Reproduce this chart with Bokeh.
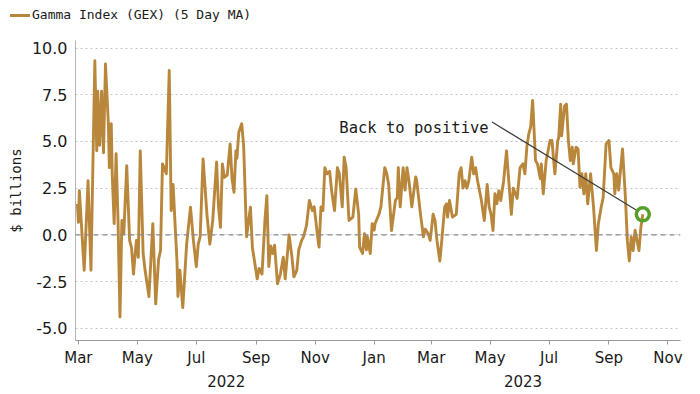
import pandas as pd
from bokeh.plotting import figure
from bokeh.layouts import column
from bokeh.models import (FixedTicker, DatetimeTickFormatter, NumeralTickFormatter, Span,
                          Label, Range1d, ColumnDataSource, DatetimeAxis, Div)
from bokeh.embed import file_html
from bokeh.resources import INLINE

# ---------------- data ----------------
dates = [
    "2022-02-28", "2022-03-01", "2022-03-02", "2022-03-07", "2022-03-11", "2022-03-14", "2022-03-18",
    "2022-03-20", "2022-03-21", "2022-03-23", "2022-03-25", "2022-03-27", "2022-03-29", "2022-04-01",
    "2022-04-02", "2022-04-04", "2022-04-05", "2022-04-07", "2022-04-09", "2022-04-11", "2022-04-13",
    "2022-04-15", "2022-04-17", "2022-04-20", "2022-04-23", "2022-04-25", "2022-04-27", "2022-04-30",
    "2022-05-02", "2022-05-04", "2022-05-07", "2022-05-09", "2022-05-13", "2022-05-17", "2022-05-20",
    "2022-05-23", "2022-05-25", "2022-05-27", "2022-05-31", "2022-06-03", "2022-06-05", "2022-06-07",
    "2022-06-09", "2022-06-11", "2022-06-12", "2022-06-14", "2022-06-17", "2022-06-21", "2022-06-25",
    "2022-06-28", "2022-07-01", "2022-07-03", "2022-07-05", "2022-07-08", "2022-07-12", "2022-07-15",
    "2022-07-18", "2022-07-22", "2022-07-24", "2022-07-26", "2022-07-28", "2022-07-30", "2022-08-02",
    "2022-08-05", "2022-08-07", "2022-08-09", "2022-08-11", "2022-08-12", "2022-08-14", "2022-08-17",
    "2022-08-19", "2022-08-22", "2022-08-26", "2022-08-28", "2022-09-02", "2022-09-04", "2022-09-07",
    "2022-09-10", "2022-09-12", "2022-09-14", "2022-09-16", "2022-09-18", "2022-09-20", "2022-09-23",
    "2022-09-26", "2022-09-29", "2022-10-01", "2022-10-05", "2022-10-08", "2022-10-10", "2022-10-13",
    "2022-10-15", "2022-10-18", "2022-10-20", "2022-10-23", "2022-10-26", "2022-10-29", "2022-10-31",
    "2022-11-04", "2022-11-05", "2022-11-07", "2022-11-09", "2022-11-11", "2022-11-13", "2022-11-16",
    "2022-11-18", "2022-11-21", "2022-11-24", "2022-11-26", "2022-11-29", "2022-12-01", "2022-12-03",
    "2022-12-06", "2022-12-10", "2022-12-13", "2022-12-16", "2022-12-17", "2022-12-20", "2022-12-22",
    "2022-12-24", "2022-12-25", "2022-12-28", "2022-12-30", "2023-01-01", "2023-01-02", "2023-01-06",
    "2023-01-08", "2023-01-12", "2023-01-14", "2023-01-16", "2023-01-19", "2023-01-23", "2023-01-25",
    "2023-01-26", "2023-01-28", "2023-01-31", "2023-02-02", "2023-02-04", "2023-02-06", "2023-02-09",
    "2023-02-13", "2023-02-14", "2023-02-18", "2023-02-21", "2023-02-23", "2023-02-26", "2023-02-28",
    "2023-03-03", "2023-03-05", "2023-03-07", "2023-03-10", "2023-03-12", "2023-03-15", "2023-03-17",
    "2023-03-18", "2023-03-20", "2023-03-23", "2023-03-27", "2023-03-30", "2023-04-01", "2023-04-03",
    "2023-04-05", "2023-04-07", "2023-04-09", "2023-04-12", "2023-04-14", "2023-04-16", "2023-04-18",
    "2023-04-22", "2023-04-25", "2023-04-28", "2023-04-30", "2023-05-02", "2023-05-04", "2023-05-06",
    "2023-05-08", "2023-05-10", "2023-05-12", "2023-05-15", "2023-05-18", "2023-05-20", "2023-05-23",
    "2023-05-25", "2023-05-29", "2023-06-01", "2023-06-04", "2023-06-06", "2023-06-08", "2023-06-10",
    "2023-06-12", "2023-06-14", "2023-06-17", "2023-06-19", "2023-06-22", "2023-06-23", "2023-06-25",
    "2023-06-28", "2023-06-30", "2023-07-02", "2023-07-04", "2023-07-07", "2023-07-10", "2023-07-11",
    "2023-07-13", "2023-07-14", "2023-07-17", "2023-07-19", "2023-07-21", "2023-07-23", "2023-07-25",
    "2023-07-26", "2023-07-29", "2023-07-31", "2023-08-02", "2023-08-04", "2023-08-06", "2023-08-08",
    "2023-08-10", "2023-08-13", "2023-08-16", "2023-08-19", "2023-08-21", "2023-08-24", "2023-08-26",
    "2023-08-29", "2023-09-01", "2023-09-03", "2023-09-06", "2023-09-07", "2023-09-09", "2023-09-11",
    "2023-09-15", "2023-09-18", "2023-09-20", "2023-09-22", "2023-09-24", "2023-09-26", "2023-09-28",
    "2023-10-02", "2023-10-04", "2023-10-06",
]
gex = [
    1.66, 0.67, 2.37, -1.9, 2.9, -1.9, 9.33,
    4.5, 7.7, 4.8, 7.7, 4.4, 9.16, 5.95,
    3.6, 5.95, 3.27, 0.6, 4.35, 0.8, -4.4,
    0.77, 0.06, 3.7, -0.3, -0.7, -2.1, -0.3,
    -1.2, 4.5, -1.0, -1.9, -3.3, 0.6, -3.7,
    -1.3, -0.84, 3.8, 3.27, 8.8, 1.3, 2.7,
    0.6, -1.4, -3.3, -1.9, -3.9, -0.5, 1.48,
    -0.3, -1.7, -0.5, -0.1, 4.07, 1.1, -0.5,
    0.77, 3.9, 1.48, 0.4, 3.8, 3.08, 3.2,
    4.87, 3.0, 2.28, 4.5, 4.1, 5.5, 5.95,
    4.75, -0.1, 1.48, -0.66, -2.36, -1.8, -2.1,
    0.77, 2.1, -1.7, -0.6, -1.0, -0.55, -2.62,
    -2.1, -1.2, -2.36, 0.0, -1.2, -2.25, -1.9,
    -0.8, -0.3, -0.1, 0.5, 1.84, 1.3, 1.5,
    -0.3, -0.66, 1.5, 1.3, 3.6, 3.27, 3.4,
    2.37, 1.3, 3.6, 3.27, 1.5, 4.16, 3.6,
    0.77, 0.95, 2.46, 1.1, -0.66, -1.0, 0.06,
    -0.8, -0.1, -1.0, 0.6, 0.25, 0.6, 1.1,
    1.5, 3.6, 3.3, 2.7, 0.23, 1.84, 2.0,
    3.6, 1.5, 3.6, 2.4, 3.6, 2.9, 1.5,
    3.1, 2.9, 1.1, -0.1, 0.3, 0.06, -0.3,
    1.1, 0.77, -0.3, -1.4, -0.3, 1.5, 1.66,
    0.95, 1.84, 0.95, 1.1, 3.27, 3.6, 2.5,
    2.9, 2.5, 2.9, 4.16, 3.27, 3.6, 2.9,
    1.84, 0.77, 2.7, 1.5, 1.1, 0.23, 2.2,
    1.66, 2.37, 1.84, 2.9, 4.5, 3.1, 1.1,
    2.5, 1.95, 3.6, 3.8, 3.27, 4.7, 5.4,
    5.8, 7.2, 3.98, 3.8, 3.0, 3.8, 2.2,
    3.98, 4.5, 5.05, 5.05, 3.27, 5.05, 5.2,
    7.0, 5.3, 6.9, 7.0, 5.05, 3.98, 4.7,
    3.8, 4.7, 4.6, 2.55, 3.27, 2.2, 3.27,
    1.66, 3.27, 1.5, -0.84, 0.6, 1.5, 2.0,
    4.87, 5.05, 3.6, 3.27, 2.2, 3.27, 2.4,
    4.6, 2.0, -0.3, -1.4, -0.1, -0.84, 0.25,
    -0.84, 0.4, 1.1,
]

series_name = "Gamma Index (GEX) (5 Day MA)"
y_label = "$ billions"
y_ticks = [-5.0, -2.5, 0.0, 2.5, 5.0, 7.5, 10.0]
month_ticks = ["2022-03-01", "2022-05-01", "2022-07-01", "2022-09-01", "2022-11-01", "2023-01-01",
               "2023-03-01", "2023-05-01", "2023-07-01", "2023-09-01", "2023-11-01"]
year_label_at = ["2022-08-01", "2023-06-04"]
annotation_text = "Back to positive"
annotation_text_at = ("2022-11-26", 5.73)
annotation_line = (("2023-05-03", 6.04), ("2023-09-30", 1.30))
x_start, x_end = "2022-02-26", "2023-11-14"
y_start, y_end = -5.66, 10.41

LINE_COLOR = "#B9873C"
GREEN = "#55A028"
TEXT = "#1a1a1a"
MONO = "DejaVu Sans Mono"
SANS = "DejaVu Sans"

# ---------------- legend strip (HTML) ----------------
legend_div = Div(
    width=700, height=30,
    text=(f'<div style="position:relative;height:30px;font-family:\'{MONO}\';font-size:13px;'
          f'color:{TEXT};white-space:nowrap;">'
          f'<span style="position:absolute;left:10px;top:14px;width:20px;height:3px;'
          f'background:{LINE_COLOR};"></span>'
          f'<span style="position:absolute;left:32px;top:7px;line-height:16px;">{series_name}</span>'
          f'</div>'),
    styles={"margin": "0", "padding": "0"})

# ---------------- main figure ----------------
src = ColumnDataSource(dict(date=pd.to_datetime(dates), gex=gex))

p = figure(x_axis_type="datetime", output_backend="svg", toolbar_location=None, title=None,
           frame_width=605, frame_height=300,
           x_range=Range1d(pd.Timestamp(x_start), pd.Timestamp(x_end)),
           y_range=Range1d(y_start, y_end))
p.min_border_left = 75
p.min_border_right = 20
p.min_border_top = 10
p.min_border_bottom = 54
p.outline_line_color = None
p.background_fill_color = "white"
p.border_fill_color = "white"

# grid
p.xgrid.visible = False
p.ygrid.ticker = FixedTicker(ticks=y_ticks)
p.ygrid.grid_line_color = "#c4c4c4"
p.ygrid.grid_line_dash = "2 3"
p.ygrid.grid_line_width = 1

p.add_layout(Span(location=0, dimension="width", line_color="#8a8a8a",
                  line_dash="5 4", line_width=1.3))

# y axis
p.yaxis.ticker = FixedTicker(ticks=y_ticks)
p.yaxis.formatter = NumeralTickFormatter(format="0.0")
p.yaxis.major_tick_out = 0
p.yaxis.major_tick_in = 0
p.yaxis.minor_tick_out = 0
p.yaxis.minor_tick_in = 0
p.yaxis.major_tick_line_color = None
p.yaxis.minor_tick_line_color = None
p.yaxis.axis_line_color = "#b5b5b5"
p.yaxis.major_label_text_font = SANS
p.yaxis.major_label_text_font_size = "16px"
p.yaxis.major_label_text_color = TEXT
p.yaxis.major_label_standoff = 8
p.yaxis.axis_label = y_label
p.yaxis.axis_label_text_font = MONO
p.yaxis.axis_label_text_font_size = "14px"
p.yaxis.axis_label_text_font_style = "normal"
p.yaxis.axis_label_text_color = TEXT
p.yaxis.axis_label_standoff = 5

# x axis: months
fmt = "%b"
p.xaxis.ticker = FixedTicker(ticks=[pd.Timestamp(d).value // 10**6 for d in month_ticks])
p.xaxis.formatter = DatetimeTickFormatter(
    milliseconds=fmt, seconds=fmt, minsec=fmt, minutes=fmt, hourmin=fmt, hours=fmt,
    days=fmt, months=fmt, years=fmt)
p.xaxis.axis_line_color = "#9a9a9a"
p.xaxis.major_tick_line_color = "#9a9a9a"
p.xaxis.major_tick_out = 4
p.xaxis.major_tick_in = 0
p.xaxis.minor_tick_out = 0
p.xaxis.minor_tick_in = 0
p.xaxis.minor_tick_line_color = None
p.xaxis.major_label_text_font = SANS
p.xaxis.major_label_text_font_size = "15px"
p.xaxis.major_label_text_color = TEXT
p.xaxis.major_label_standoff = 4

# x axis: years (second row)
yfmt = "%Y"
year_axis = DatetimeAxis(
    ticker=FixedTicker(ticks=[pd.Timestamp(d).value // 10**6 for d in year_label_at]),
    formatter=DatetimeTickFormatter(
        milliseconds=yfmt, seconds=yfmt, minsec=yfmt, minutes=yfmt, hourmin=yfmt, hours=yfmt,
        days=yfmt, months=yfmt, years=yfmt),
    axis_line_color=None, major_tick_line_color=None, minor_tick_line_color=None,
    major_tick_out=0, major_tick_in=0, minor_tick_out=0, minor_tick_in=0,
    major_label_standoff=5, major_label_text_font=SANS, major_label_text_font_size="15px",
    major_label_text_color=TEXT)
p.add_layout(year_axis, "below")

# series
p.line(x="date", y="gex", source=src, line_color=LINE_COLOR, line_width=2.9, line_join="round")

# annotation
(a0d, a0v), (a1d, a1v) = annotation_line
p.line(x=[pd.Timestamp(a0d), pd.Timestamp(a1d)], y=[a0v, a1v],
       line_color="#3a3a3a", line_width=1.2)
p.add_layout(Label(x=pd.Timestamp(annotation_text_at[0]), y=annotation_text_at[1],
                   text=annotation_text, text_align="left", text_baseline="alphabetic",
                   text_font=MONO, text_font_size="15.5px", text_color=TEXT))
p.scatter(x=[pd.to_datetime(dates[-1])], y=[gex[-1]], marker="circle", size=13,
          fill_color=None, line_color=GREEN, line_width=3.5)

layout = column(legend_div, p, spacing=0)
open("out.html", "w").write(file_html(layout, INLINE))
